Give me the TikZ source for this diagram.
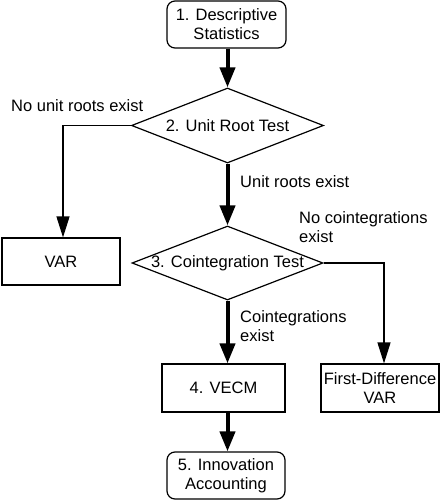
\documentclass[tikz,border=0pt]{standalone}
\usepackage{fontspec}
\setmainfont{Liberation Sans}
\usetikzlibrary{shapes.geometric,arrows.meta}
\begin{document}
\begin{tikzpicture}[x=1pt,y=-1pt,
  every node/.style={font=\fontsize{16.5}{19}\selectfont},
  stepbox/.style={draw=black,line width=1.2pt,inner sep=2pt,align=center},
  termbox/.style={stepbox,rounded corners=8pt},
  decision/.style={draw=black,line width=1.2pt,diamond,inner sep=0pt},
  thickarrow/.style={line width=4pt,-{Triangle[length=20pt,width=15pt]}},
  thinarrow/.style={line width=1.2pt,-{Triangle[length=21pt,width=13pt]}},
  lbl/.style={anchor=west,align=left,inner sep=0pt}]
\useasboundingbox (0,0) rectangle (440,500);
\node[termbox,minimum width=119pt,minimum height=47pt] (n1) at (226.5,24.5) {1. Descriptive\\Statistics};
\node[decision,minimum width=192pt,minimum height=75pt] (d2) at (227.5,125.5) {\makebox[0pt]{2. Unit Root Test}};
\node[decision,minimum width=191pt,minimum height=74pt] (d3) at (227.5,263) {\makebox[0pt]{3. Cointegration Test}};
\node[stepbox,minimum width=118pt,minimum height=47pt] (var) at (61,261.5) {VAR};
\node[stepbox,minimum width=123pt,minimum height=48pt] (vecm) at (223.5,388) {4. VECM};
\node[stepbox,minimum width=118pt,minimum height=48pt] (fd) at (380,388) {First-Difference\\VAR};
\node[termbox,minimum width=118pt,minimum height=47pt] (n5) at (226,475.5) {5. Innovation\\Accounting};
\draw[thickarrow] (n1.south -| d2.north) -- (d2.north);
\draw[thickarrow] (d2.south) -- (d3.north);
\draw[thickarrow] (d3.south) -- (d3.south |- vecm.north);
\draw[thickarrow] (vecm.south -| d3.south) -- (d3.south |- n5.north);
\draw[thinarrow] (d2.west) -| ([xshift=2pt]var.north);
\draw[thinarrow] (d3.east) -| ([xshift=4pt]fd.north);
\node[lbl] (l1) at (11,106) {No unit roots exist};
\node[lbl] (l2) at (240,182) {Unit roots exist};
\node[lbl] (l3) at (299,227) {No cointegrations\\exist};
\node[lbl] (l4) at (240,326) {Cointegrations\\exist};
\end{tikzpicture}
\end{document}
